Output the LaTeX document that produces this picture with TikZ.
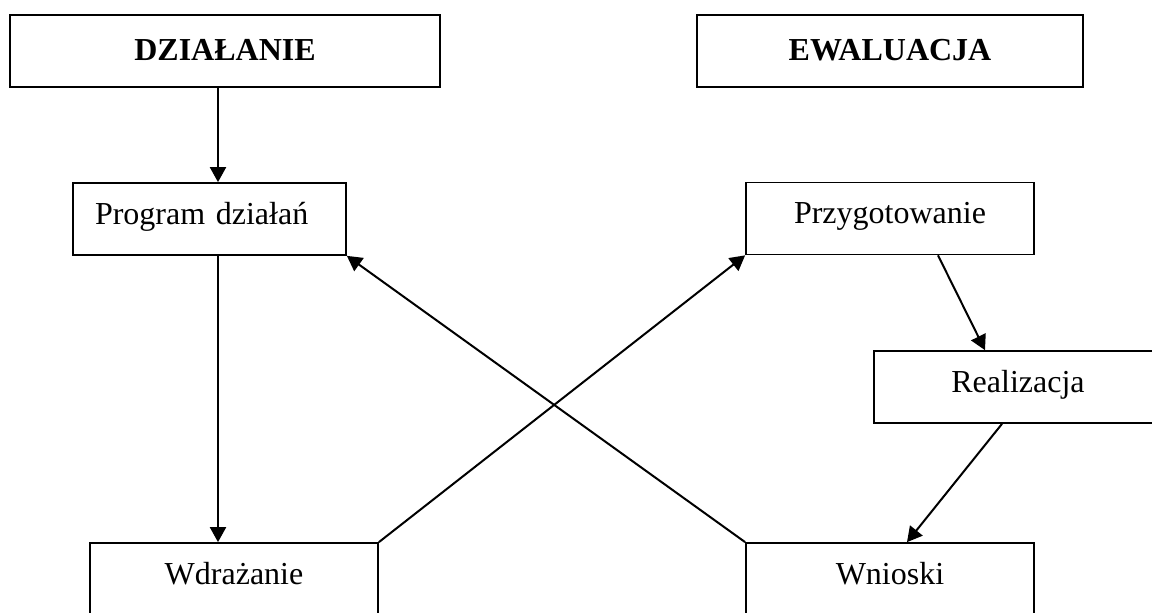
\documentclass[tikz,border=0pt]{standalone}
\usepackage{fontspec}
\setmainfont{Liberation Serif}
\usetikzlibrary{arrows.meta}
\begin{document}
\begin{tikzpicture}[x=0.5pt,y=-0.5pt,
    box/.style={draw,line width=0.85pt,inner sep=0pt,minimum height=36pt,
      font=\fontsize{16}{19}\selectfont,text height=11pt,text depth=6pt},
    head/.style={box,font=\fontsize{16}{19}\selectfont\bfseries,text depth=2pt},
    arr/.style={-{Triangle[length=7.5pt,width=8pt]},line width=1pt}]
  \useasboundingbox (0,0) rectangle (1152,612);
  \clip (0,0) rectangle (1152,612);
  \node[head,minimum width=215pt] (dzial) at (225,51) {DZIAŁANIE};
  \node[head,minimum width=193pt] (ewal) at (890,51) {EWALUACJA};
  \node[box,minimum width=136.5pt,text width=114.5pt,inner xsep=11pt,align=left] (prog) at (209.5,219) {Program działań};
  \node[box,minimum width=144pt] (przyg) at (890,218.5) {Przygotowanie};
  \node[box,minimum width=144pt] (real) at (1018,387) {Realizacja};
  \node[box,minimum width=144pt] (wdraz) at (234,579) {Wdrażanie};
  \node[box,minimum width=144pt] (wnio) at (890,579) {Wnioski};
  \draw[arr] ([xshift=-3.5pt]dzial.south) -- ([xshift=4.25pt]prog.north);
  \draw[arr] ([xshift=4.25pt]prog.south) -- ([xshift=-8pt]wdraz.north);
  \draw[arr] (wdraz.north east) -- (przyg.south west);
  \draw[arr] (wnio.north west) -- (prog.south east);
  \draw[arr] ([xshift=24pt]przyg.south) -- ([xshift=-16.5pt]real.north);
  \draw[arr] ([xshift=-8pt]real.south) -- ([xshift=8.5pt]wnio.north);
\end{tikzpicture}
\end{document}
